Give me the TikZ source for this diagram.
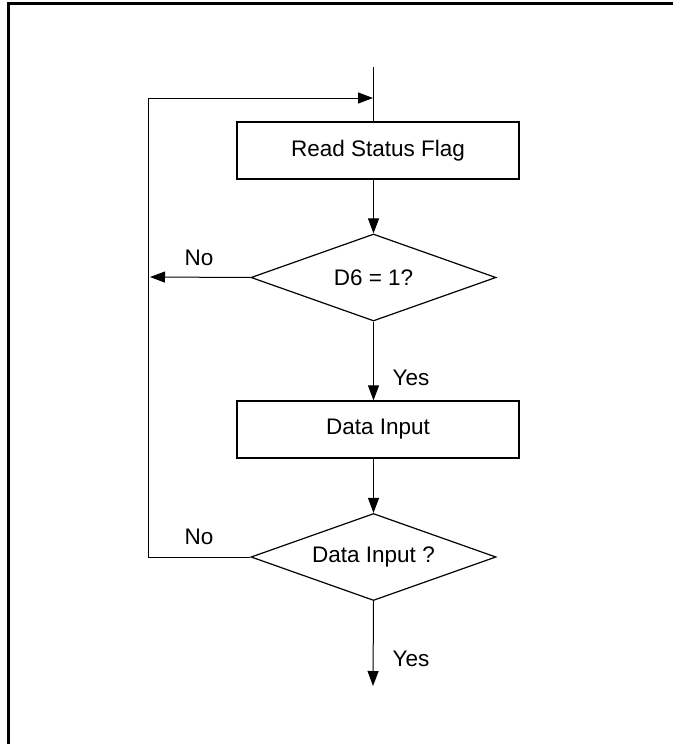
\documentclass[tikz,border=0pt]{standalone}
\usepackage{fontspec}
\setmainfont{Liberation Sans}
\usetikzlibrary{arrows.meta,shapes.geometric}
\begin{document}
\begin{tikzpicture}[x=1pt,y=-1pt,
  every node/.style={font=\fontsize{22.5}{26}\selectfont},
  line/.style={line width=1pt},
  arr/.style={line width=1pt,-{Triangle[length=15pt,width=11pt]}},
  proc/.style={draw,line width=1.2pt,minimum width=282pt,minimum height=57pt,inner sep=0pt},
  decide/.style={draw,diamond,aspect=2.8,line width=1.2pt,minimum width=245pt,minimum height=87pt,inner sep=0pt},
  lbl/.style={inner sep=0pt}]
\useasboundingbox (0,0) rectangle (673,744);
\draw[line width=3pt] (673,3.2) -- (8,3.2) -- (8,744);
% nodes
\coordinate (top) at (373,67);
\coordinate (entry) at (373,98);
\coordinate (loopc) at (148,98);
\coordinate (no1end) at (150,277);
\coordinate (endc) at (373,686);
\node[proc] (rsf) at (378,150.5) {Read Status Flag};
\node[decide] (d1) at (373.5,277.5) {D6 = 1?};
\node[proc] (din) at (378,429.5) {Data Input};
\node[decide] (d2) at (373.5,557) {Data Input ?};
% labels
\node[lbl] (no1) at (199,258) {No};
\node[lbl] (yes1) at (411,378) {Yes};
\node[lbl] (no2) at (199,537) {No};
\node[lbl] (yes2) at (411,659) {Yes};
% connectors
\draw[line] (top) -- (rsf.north -| top);
\draw[arr] (rsf.south -| d1.north) -- (d1.north);
\draw[arr] (d1.west) -- (no1end);
\draw[arr] (d1.south) -- (din.north -| d1.south);
\draw[arr] (din.south -| d2.north) -- (d2.north);
\draw[arr] (d2.south) -- (endc);
\draw[arr] (d2.west) -| (loopc) -- (entry);
\end{tikzpicture}
\end{document}
